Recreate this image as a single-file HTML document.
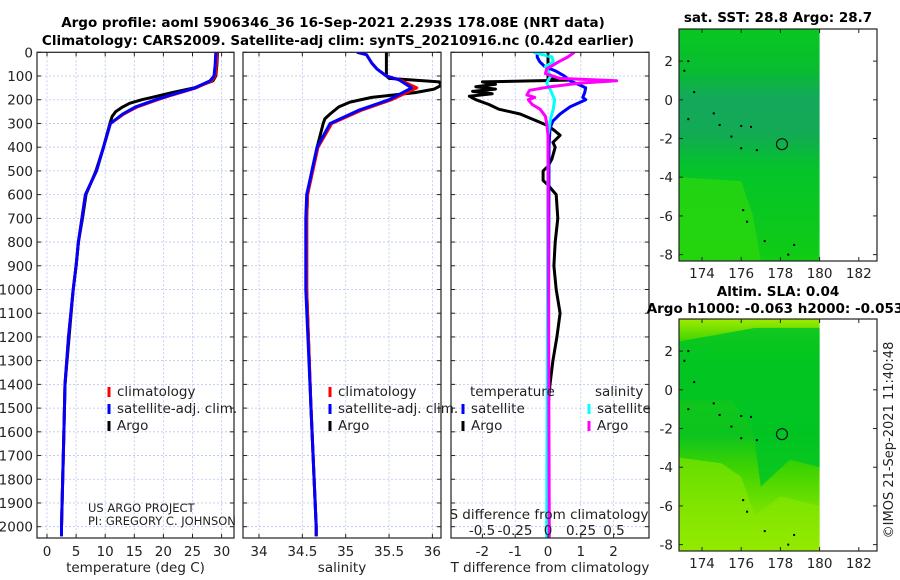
<!DOCTYPE html>
<html><head><meta charset="utf-8"><style>
body{margin:0;background:#fff}
svg{display:block;font-family:"DejaVu Sans","Liberation Sans",sans-serif}
</style></head><body>
<svg id="fig" width="900" height="580" viewBox="0 0 900 580">
<defs>
<linearGradient id="sstg" x1="0" y1="0" x2="0" y2="1">
<stop offset="0" stop-color="#08c820"/><stop offset="0.18" stop-color="#08bc30"/>
<stop offset="0.3" stop-color="#14a85c"/><stop offset="0.45" stop-color="#12aa54"/>
<stop offset="0.6" stop-color="#04c42a"/><stop offset="1" stop-color="#10cc14"/>
</linearGradient>
<linearGradient id="slag" x1="0" y1="0" x2="0" y2="1">
<stop offset="0" stop-color="#9eea00"/><stop offset="0.1" stop-color="#3ed400"/>
<stop offset="0.2" stop-color="#10c818"/><stop offset="0.5" stop-color="#0cc41e"/>
<stop offset="0.65" stop-color="#40d400"/><stop offset="0.85" stop-color="#7ee400"/><stop offset="1" stop-color="#a0ec00"/>
</linearGradient>
</defs>
<g font-weight="bold" font-size="13.5" text-anchor="middle">
<text x="333" y="27">Argo profile: aoml 5906346_36 16-Sep-2021 2.293S 178.08E (NRT data)</text>
<text x="338" y="45">Climatology: CARS2009. Satellite-adj clim: synTS_20210916.nc (0.42d earlier)</text>
</g>
<g id="panels"></g>
<g id="maps"></g>
<text transform="translate(893,440) rotate(-90)" text-anchor="middle" font-size="13" fill="#222">©IMOS 21-Sep-2021 11:40:48</text>
</svg>
<script>
const NS="http://www.w3.org/2000/svg";
// ---- data ----
const depthTicks=[0,100,200,300,400,500,600,700,800,900,1000,1100,1200,1300,1400,1500,1600,1700,1800,1900,2000];
const tTicks=[0,5,10,15,20,25,30];
const sTicks=[34,34.5,35,35.5,36];
const sTickLabels=["34","34.5","35","35.5","36"];
const dtTicks=[-2,-1,0,1,2];
const dsTicks=[-0.5,-0.25,0,0.25,0.5];
const dsTickLabels=["-0.5","-0.25","0","0.25","0.5"];

const climDepth=[0,50,100,120,150,180,200,230,260,300,400,500,600,700,800,900,1000,1200,1400,1600,1800,2000,2040];
const tempClim=[29.2,29.1,28.9,28.3,25.6,21.5,19.0,15.5,13.2,10.9,9.7,8.5,6.6,6.0,5.4,5.0,4.5,3.7,3.1,2.9,2.7,2.5,2.5];
const tempSat=[29.0,28.9,28.7,28.0,25.4,21.3,18.7,15.2,13.0,10.9,9.7,8.5,6.6,6.0,5.4,5.0,4.5,3.7,3.1,2.9,2.7,2.5,2.5];
const argoDepth=[0,50,100,120,150,170,190,200,215,230,250,270,300,400,500,600,700,800,900,1000,1200,1400,1600,1800,2000,2040];
const tempArgo=[29.3,29.2,29.0,28.5,25.3,21.5,18.0,16.3,14.2,13.0,11.8,11.2,10.8,9.7,8.4,6.7,6.1,5.4,5.0,4.5,3.8,3.1,2.9,2.7,2.5,2.5];

const salDepth=[0,10,45,70,100,117,150,200,243,300,400,500,600,700,1000,1500,2000,2040];
const salClim=[35.13,35.24,35.30,35.36,35.47,35.63,35.82,35.53,35.19,34.84,34.68,34.62,34.56,34.55,34.55,34.60,34.66,34.66];
const salSat=[35.13,35.24,35.30,35.36,35.47,35.62,35.76,35.50,35.16,34.82,34.67,34.61,34.55,34.54,34.54,34.60,34.66,34.66];
const salArgoDepth=[0,100,110,125,140,155,170,190,210,230,260,280,300,400,500,600,700,1000,1500,2000,2040];
const salArgo=[35.47,35.47,35.50,36.08,36.10,36.02,35.80,35.30,35.05,34.92,34.82,34.76,34.74,34.67,34.61,34.56,34.55,34.55,34.60,34.66,34.66];

const dtArgoDepth=[0,110,117,125,135,145,155,165,175,185,200,220,240,260,290,310,330,350,380,400,450,480,500,540,560,600,700,800,900,1000,1100,1200,1300,1400,1500,2000,2045];
const dtArgo=[0,0,0.6,-2.0,-1.6,-2.2,-1.6,-2.3,-1.7,-2.4,-2.2,-1.8,-1.5,-0.85,-0.33,0.0,0.2,0.37,0.15,0.22,0.12,0.0,-0.15,-0.15,0.0,0.25,0.3,0.22,0.18,0.25,0.37,0.27,0.15,0.06,0.0,0.0,0.0];
const dtSatDepth=[0,20,40,60,80,100,120,140,150,170,190,200,230,260,290,320,400,2045];
const dtSat=[-0.33,-0.33,-0.25,-0.1,0.25,0.5,0.67,1.0,1.15,1.12,1.06,1.15,0.67,0.37,0.15,0.06,0.03,0.0];
const dsSatDepth=[0,20,40,60,80,100,130,160,200,240,280,350,2045];
const dsSat=[-0.11,0.03,0.04,-0.02,0.0,0.02,-0.01,0.02,0.05,0.04,0.02,0.0,-0.01];
const dsArgoDepth=[0,20,40,70,90,110,120,130,145,160,180,190,200,220,240,270,300,350,2045];
const dsArgo=[0.2,0.15,0.08,-0.01,-0.02,0.09,0.52,0.24,0.02,-0.14,-0.16,-0.1,-0.15,-0.12,-0.06,-0.02,-0.01,0.0,0.01];

const latTicks=[2,0,-2,-4,-6,-8];
const lonTicks=[174,176,178,180,182];
const argoLon=178.08, argoLat=-2.293;

// ---- helpers ----
function el(tag,attrs,parent){const e=document.createElementNS(NS,tag);for(const k in attrs)e.setAttribute(k,attrs[k]);parent.appendChild(e);return e;}
const panels=document.getElementById('panels');
const yTop=52.3, yPer=0.2372;
const yD=d=>yTop+d*yPer;
const PB=538;
const FS=13.5;
function makeX(x0,v0,ppu){return v=>x0+(v-v0)*ppu;}
const xT=makeX(47,0,5.82), xS=makeX(259,34,86.7), xDT=makeX(548,0,32.8), xDS=makeX(548,0,132);

function frame(name,L,R,xs,ticks){
  const g=el('g',{},panels);
  
  
  ticks.forEach(t=>{const x=xs(t);el('line',{x1:x,x2:x,y1:yTop,y2:PB,stroke:'#b8c4f0','stroke-width':0.8,'stroke-dasharray':'2,2'},g);});
  depthTicks.forEach(d=>{el('line',{x1:L,x2:R,y1:yD(d),y2:yD(d),stroke:'#b8c4f0','stroke-width':0.8,'stroke-dasharray':'2,2'},g);});
  return g;
}
function axes(g,L,R,xs,ticks,labels,title,showY){
  el('rect',{x:L,y:yTop,width:R-L,height:PB-yTop,fill:'none',stroke:'#222','stroke-width':1.2},g);
  depthTicks.forEach(d=>{const y=yD(d);
    el('line',{x1:L,x2:L+4,y1:y,y2:y,stroke:'#222'},g);el('line',{x1:R-4,x2:R,y1:y,y2:y,stroke:'#222'},g);
    if(showY){const t=el('text',{x:L-4,y:y+5,'text-anchor':'end','font-size':FS,fill:'#222'},g);t.textContent=d;}
  });
  ticks.forEach((t,i)=>{const x=xs(t);
    el('line',{x1:x,x2:x,y1:PB-4,y2:PB,stroke:'#222'},g);el('line',{x1:x,x2:x,y1:yTop,y2:yTop+4,stroke:'#222'},g);
    const tx=el('text',{x:x,y:556,'text-anchor':'middle','font-size':FS,fill:'#222'},g);tx.textContent=labels[i];});
  const tt=el('text',{x:(L+R)/2,y:572,'text-anchor':'middle','font-size':FS,fill:'#222'},g);tt.textContent=title;
}
function line(g,name,depths,vals,xs,color,w){
  const p=el('polyline',{fill:'none',stroke:color,'stroke-width':w||3,'stroke-linejoin':'round',points:vals.map((v,i)=>xs(v).toFixed(1)+','+yD(depths[i]).toFixed(1)).join(' ')},g);
  
  
}
function legend(g,x,y,color,label,name){
  const lg=el('g',{},g);
  
  
  if(color)el('line',{x1:x,x2:x,y1:y-9,y2:y+1,stroke:color,'stroke-width':3},lg);
  const t=el('text',{x:x+8,y:y,'font-size':FS,fill:'#222'},lg);t.textContent=label;
}
function clip(id,L,R){const c=el('clipPath',{id:id},panels);el('rect',{x:L,y:yTop,width:R-L,height:PB-yTop},c);}

// panel 1
clip('c1',37,234);
let g1=frame('temperature-panel',37,234,xT,tTicks);
let l1=el('g',{'clip-path':'url(#c1)'},g1);
line(l1,'temperature-argo-line',argoDepth,tempArgo,xT,'#000');
line(l1,'temperature-climatology-line',climDepth,tempClim,xT,'#f00');
line(l1,'temperature-satellite-line',climDepth,tempSat,xT,'#00f');
axes(g1,37,234,xT,tTicks,tTicks.map(String),'temperature (deg C)',true);
legend(g1,109,396,'#f00','climatology','legend-climatology');
legend(g1,109,413,'#00f','satellite-adj. clim.','legend-satellite-adj');
legend(g1,109,430,'#000','Argo','legend-argo');
let c1t=el('text',{x:88,y:512,'font-size':11.5,fill:'#222'},g1);c1t.textContent='US ARGO PROJECT';
let c2t=el('text',{x:88,y:525,'font-size':11.5,fill:'#222'},g1);c2t.textContent='PI: GREGORY C. JOHNSON';

// panel 2
clip('c2',243,441);
let g2=frame('salinity-panel',243,441,xS,sTicks);
let l2=el('g',{'clip-path':'url(#c2)'},g2);
line(l2,'salinity-argo-line',salArgoDepth,salArgo,xS,'#000');
line(l2,'salinity-climatology-line',salDepth,salClim,xS,'#f00');
line(l2,'salinity-satellite-line',salDepth,salSat,xS,'#00f');
axes(g2,243,441,xS,sTicks,sTickLabels,'salinity',false);
legend(g2,330,396,'#f00','climatology','legend-climatology-2');
legend(g2,330,413,'#00f','satellite-adj. clim.','legend-satellite-adj-2');
legend(g2,330,430,'#000','Argo','legend-argo-2');

// panel 3
clip('c3',451,649);
let g3=frame('difference-panel',451,649,xDT,dtTicks);
let l3=el('g',{'clip-path':'url(#c3)'},g3);
line(l3,'t-diff-argo-line',dtArgoDepth,dtArgo,xDT,'#000');
line(l3,'t-diff-satellite-line',dtSatDepth,dtSat,xDT,'#00f');
line(l3,'s-diff-satellite-line',dsSatDepth,dsSat,xDS,'#0ff');
line(l3,'s-diff-argo-line',dsArgoDepth,dsArgo,xDS,'#f0f');
axes(g3,451,649,xDT,dtTicks,dtTicks.map(String),'T difference from climatology',false);
let st=el('text',{x:549,y:519,'text-anchor':'middle','font-size':FS,fill:'#222'},g3);st.textContent='S difference from climatology';
dsTicks.forEach((t,i)=>{const tx=el('text',{x:xDS(t),y:535,'text-anchor':'middle','font-size':FS,fill:'#222'},g3);tx.textContent=dsTickLabels[i];});
let tl=el('text',{x:470,y:396,'font-size':FS,fill:'#222'},g3);tl.textContent='temperature';
let sl=el('text',{x:595,y:396,'font-size':FS,fill:'#222'},g3);sl.textContent='salinity';
legend(g3,463,413,'#00f','satellite','legend-t-satellite');
legend(g3,463,430,'#000','Argo','legend-t-argo');
legend(g3,589,413,'#0ff','satellite','legend-s-satellite');
legend(g3,589,430,'#f0f','Argo','legend-s-argo');

// maps
const maps=document.getElementById('maps');
const mL=679,mR=877;
const lonX=lon=>702+(lon-174)*19.6;
function drawMap(name,top,fill,titleLines,extra){
  const g=el('g',{},maps);
  
  
  const lY=lat=>top+(3.66-lat)*19.35;
  el('rect',{x:mL,y:top,width:lonX(180)-mL,height:232,fill:fill},g);
  extra(g,lY);
  [[173.3,-1.0],[174.6,-0.7],[174.9,-1.3],[175.5,-1.9],[176,-1.35],[176.5,-1.4],[176,-2.5],[176.8,-2.6],[176.1,-5.7],[176.3,-6.3],[177.2,-7.3],[178.7,-7.5],[178.4,-8.0],[173.3,2.0],[173.6,0.4],[173.1,1.5]].forEach(p=>el('rect',{x:lonX(p[0])-1,y:lY(p[1])-1,width:2,height:2,fill:'#000'},g));
  el('circle',{cx:lonX(argoLon),cy:lY(argoLat),r:5.5,fill:'none',stroke:'#111','stroke-width':1.2},g);
  el('rect',{x:mL,y:top,width:mR-mL,height:232,fill:'none',stroke:'#222','stroke-width':1.2},g);
  latTicks.forEach(l=>{const y=lY(l);el('line',{x1:mL,x2:mL+4,y1:y,y2:y,stroke:'#222'},g);el('line',{x1:mR-4,x2:mR,y1:y,y2:y,stroke:'#222'},g);
    const t=el('text',{x:673,y:y+5,'text-anchor':'end','font-size':FS,fill:'#222'},g);t.textContent=l;});
  lonTicks.forEach(l=>{const x=lonX(l);el('line',{x1:x,x2:x,y1:top+228,y2:top+232,stroke:'#222'},g);el('line',{x1:x,x2:x,y1:top,y2:top+4,stroke:'#222'},g);
    const t=el('text',{x:x,y:top+249,'text-anchor':'middle','font-size':FS,fill:'#222'},g);t.textContent=l;});
  titleLines.forEach(tl=>{const t=el('text',{x:tl[0],y:tl[1],'text-anchor':'middle','font-size':13.5,'font-weight':'bold'},g);t.textContent=tl[2];});
}
drawMap('sst-map',29,'url(#sstg)',[[778,22,'sat. SST: 28.8 Argo: 28.7']],(g,lY)=>{
  el('path',{d:`M${mL} ${lY(-4)} L${lonX(176)} ${lY(-4.2)} L${lonX(176.6)} ${lY(-6)} L${lonX(177)} ${lY(-8.3)} L${mL} ${lY(-8.3)}Z`,fill:'#2ed80c',opacity:0.7},g);
});
drawMap('sla-map',319,'url(#slag)',[[778,296,'Altim. SLA: 0.04'],[775,313,'Argo h1000: -0.063 h2000: -0.053']],(g,lY)=>{
  el('path',{d:`M${lonX(176.7)} ${lY(3.2)} L${lonX(180)} ${lY(3.2)} L${lonX(180)} ${lY(-4)} L${lonX(178.5)} ${lY(-3.6)} L${lonX(177)} ${lY(-5)} L${lonX(176.6)} ${lY(-2)} L${lonX(175.5)} ${lY(-0.5)} L${mL} ${lY(-0.5)} L${mL} ${lY(2.5)}Z`,fill:'#00c424',opacity:0.85},g);
  el('path',{d:`M${mL} ${lY(-3.5)} L${lonX(175)} ${lY(-3.8)} L${lonX(176)} ${lY(-4.5)} L${lonX(176.7)} ${lY(-6.5)} L${lonX(178)} ${lY(-5.5)} L${lonX(180)} ${lY(-6)} L${lonX(180)} ${lY(-8.3)} L${mL} ${lY(-8.3)}Z`,fill:'#8ae800',opacity:0.6},g);
});
</script>
</body></html>
